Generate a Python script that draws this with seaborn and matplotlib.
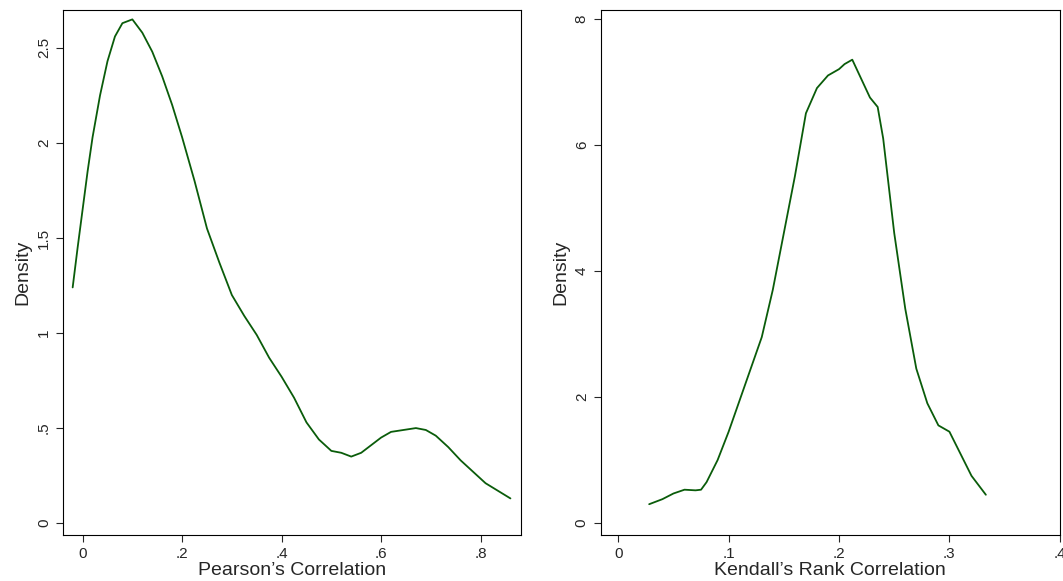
import matplotlib
matplotlib.use("Agg")
import matplotlib.pyplot as plt
import seaborn as sns
import pandas as pd

pearson_x = [-0.02, -0.01, 0.0, 0.01, 0.02, 0.035, 0.05, 0.065, 0.08, 0.1, 0.12, 0.14, 0.16, 0.18,
             0.2, 0.225, 0.25, 0.275, 0.3, 0.325, 0.35, 0.375, 0.4, 0.425, 0.45, 0.475,
             0.5, 0.52, 0.54, 0.56, 0.58, 0.6, 0.62, 0.645, 0.67, 0.69, 0.71, 0.735,
             0.76, 0.785, 0.81, 0.835, 0.86]
pearson_y = [1.24, 1.45, 1.65, 1.85, 2.03, 2.25, 2.43, 2.56, 2.63, 2.65, 2.58, 2.48, 2.35, 2.2,
             2.03, 1.8, 1.55, 1.37, 1.2, 1.09, 0.99, 0.87, 0.77, 0.66, 0.53, 0.44,
             0.38, 0.37, 0.35, 0.37, 0.41, 0.45, 0.48, 0.49, 0.5, 0.49, 0.46, 0.4,
             0.33, 0.27, 0.21, 0.17, 0.13]
kendall_x = [0.028, 0.04, 0.05, 0.06, 0.07, 0.075, 0.08, 0.09, 0.1, 0.11, 0.12, 0.13, 0.14,
             0.15, 0.16, 0.17, 0.18, 0.19, 0.2, 0.205, 0.212, 0.22, 0.228, 0.235, 0.24,
             0.25, 0.26, 0.27, 0.28, 0.29, 0.3, 0.31, 0.32, 0.333]
kendall_y = [0.3, 0.38, 0.47, 0.53, 0.52, 0.53, 0.65, 1.0, 1.45, 1.95, 2.45, 2.95, 3.7,
             4.6, 5.5, 6.5, 6.9, 7.1, 7.2, 7.28, 7.35, 7.05, 6.75, 6.6, 6.1,
             4.6, 3.4, 2.45, 1.9, 1.55, 1.45, 1.1, 0.75, 0.45]

sns.set_style("ticks")
plt.rcParams['font.family'] = ['Liberation Sans', 'DejaVu Sans']
color = "#0a5c0a"

fig = plt.figure(figsize=(10.63, 5.81), dpi=100)
ax1 = fig.add_axes([0.059, 0.079, 0.431, 0.904])
ax2 = fig.add_axes([0.565, 0.079, 0.432, 0.904])

sns.lineplot(x=pearson_x, y=pearson_y, ax=ax1, color=color, lw=1.3)
sns.lineplot(x=kendall_x, y=kendall_y, ax=ax2, color=color, lw=1.3)

def fmt(v):
    s = f"{v:g}"
    return s.replace("0.", ".") if s.startswith("0.") else s

for ax, xt, yt, xl, ylim, xlab in [
    (ax1, [0, .2, .4, .6, .8], [0, .5, 1, 1.5, 2, 2.5], (-0.04, 0.881), (-0.063, 2.7), "Pearson’s Correlation"),
    (ax2, [0, .1, .2, .3, .4], [0, 2, 4, 6, 8], (-0.016, 0.37), (-0.19, 8.14), "Kendall’s Rank Correlation"),
]:
    ax.set_xlim(*xl); ax.set_ylim(*ylim)
    ax.set_xticks(xt); ax.set_xticklabels([fmt(v) for v in xt], fontsize=11)
    ax.set_yticks(yt); ax.set_yticklabels([fmt(v) for v in yt], fontsize=11, rotation=90, va="center")
    ax.set_xlabel(xlab, fontsize=14, labelpad=1)
    ax.set_ylabel("Density", fontsize=14, labelpad=4)
    for s in ax.spines.values():
        s.set_visible(True); s.set_linewidth(0.8); s.set_color("black")
    ax.tick_params(length=5, width=0.8)

fig.savefig("out.png", dpi=100)
